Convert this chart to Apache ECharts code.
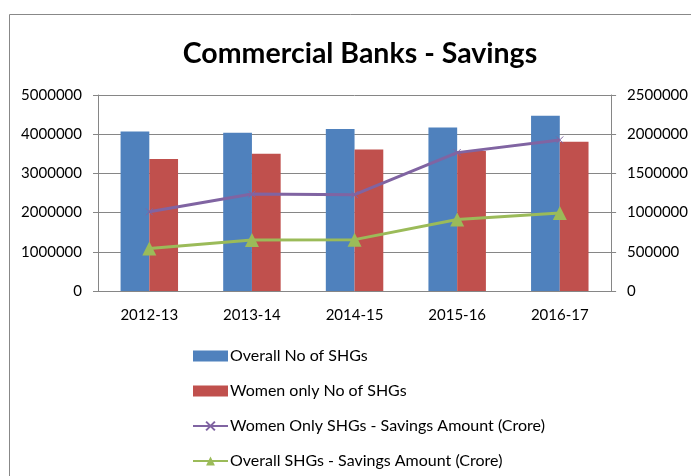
<!DOCTYPE html>
<html>
<head>
<meta charset="utf-8">
<script src="https://cdn.jsdelivr.net/npm/echarts@6/dist/echarts.min.js"></script>
<style>
  html, body { margin: 0; padding: 0; background: #fff; }
  #chart { width: 691px; height: 476px; }
</style>
</head>
<body>
<div id="chart"></div>
<script>
// Commercial bank SHG savings, 2012-13 to 2016-17
const years = ['2012-13', '2013-14', '2014-15', '2015-16', '2016-17'];
const overallShgCount = [4066000, 4040000, 4135000, 4170000, 4470000];
const womenShgCount = [3370000, 3500000, 3610000, 3570000, 3810000];
const womenSavings = [1010000, 1236000, 1228000, 1765000, 1927000];
const overallSavings = [542000, 650000, 655000, 913000, 995000];
const leftTicks = [0, 5000000];
const rightTicks = [0, 2500000];

const FONT = 'Lato';
const crossPath = 'path://M0,0L10,10M10,0L0,10';
const plain = v => String(v);

const chart = echarts.init(document.getElementById('chart'));
chart.setOption({
  animation: false,
  textStyle: { fontFamily: FONT },
  title: {
    text: 'Commercial Banks - Savings',
    left: 355,
    textAlign: 'center',
    top: 34,
    textStyle: { fontFamily: FONT, fontWeight: 'bold', fontSize: 28.5, color: '#000' }
  },
  graphic: [{
    type: 'rect',
    shape: { x: 9.5, y: 14.5, width: 700, height: 480 },
    style: { fill: 'none', stroke: '#888', lineWidth: 1 },
    silent: true
  }],
  grid: { left: 98, right: 76, top: 95, bottom: 185 },
  xAxis: {
    type: 'category',
    data: years,
    axisLine: { lineStyle: { color: '#868686' } },
    axisTick: { show: false },
    axisLabel: { color: '#000', fontSize: 15, margin: 17, fontFamily: FONT }
  },
  yAxis: [{
    type: 'value',
    min: leftTicks[0], max: leftTicks[1], interval: 1000000,
    axisLine: { show: true, lineStyle: { color: '#868686' } },
    axisTick: { show: true, length: 5, lineStyle: { color: '#868686' } },
    splitLine: { lineStyle: { color: '#868686' } },
    axisLabel: { color: '#000', fontSize: 15, margin: 16, fontFamily: FONT, formatter: plain }
  }, {
    type: 'value',
    min: rightTicks[0], max: rightTicks[1], interval: 500000,
    axisLine: { show: true, lineStyle: { color: '#868686' } },
    axisTick: { show: true, length: 5, lineStyle: { color: '#868686' } },
    splitLine: { show: false },
    axisLabel: { color: '#000', fontSize: 15, margin: 16, fontFamily: FONT, formatter: plain }
  }],
  legend: {
    orient: 'vertical',
    left: 187,
    top: 343,
    height: 200,
    itemGap: 19,
    itemWidth: 35,
    itemHeight: 11,
    textStyle: { color: '#000', fontSize: 16, fontFamily: FONT, padding: [0, 0, 0, -3] },
    data: [
      { name: 'Overall No of SHGs', icon: 'rect' },
      { name: 'Women only No of SHGs', icon: 'rect' },
      { name: 'Women Only SHGs - Savings Amount (Crore)' },
      { name: 'Overall SHGs - Savings Amount (Crore)' }
    ]
  },
  series: [{
    name: 'Overall No of SHGs',
    type: 'bar',
    data: overallShgCount,
    barGap: '0%',
    barCategoryGap: '44%',
    itemStyle: { color: '#4F81BD' }
  }, {
    name: 'Women only No of SHGs',
    type: 'bar',
    data: womenShgCount,
    itemStyle: { color: '#C0504D' }
  }, {
    name: 'Women Only SHGs - Savings Amount (Crore)',
    type: 'line',
    yAxisIndex: 1,
    data: womenSavings,
    symbol: crossPath,
    symbolSize: 7,
    lineStyle: { color: '#8064A2', width: 3 },
    itemStyle: { color: '#8064A2', borderColor: '#8064A2', borderWidth: 1 }
  }, {
    name: 'Overall SHGs - Savings Amount (Crore)',
    type: 'line',
    yAxisIndex: 1,
    data: overallSavings,
    symbol: 'triangle',
    symbolSize: 14,
    lineStyle: { color: '#9BBB59', width: 3 },
    itemStyle: { color: '#9BBB59' }
  }]
});
</script>
</body>
</html>
